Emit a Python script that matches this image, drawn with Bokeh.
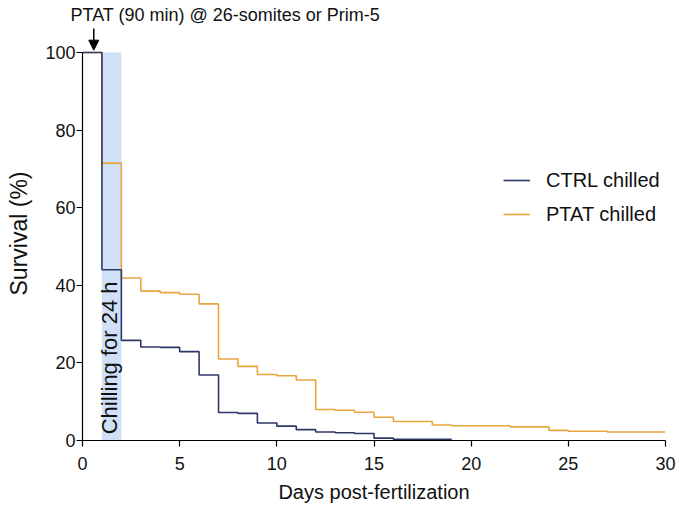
import math
from bokeh.plotting import figure
from bokeh.models import (Legend, LegendItem, Arrow, NormalHead, Title,
                          FixedTicker, Range1d)
from bokeh.embed import file_html
from bokeh.resources import INLINE
from bokeh.core.properties import value

# ---- data ----
ctrl_days = [0, 1, 2, 3, 4, 5, 6, 7, 8, 9, 10, 11, 12, 13, 14, 15, 16, 19]
ctrl_surv = [100, 44.0, 25.8, 24.1, 24.0, 22.9, 16.9, 7.2, 7.0, 4.5, 3.7, 2.8,
             2.2, 2.0, 1.8, 0.6, 0.3, 0.3]
ptat_days = [0, 1, 2, 3, 4, 5, 6, 7, 8, 9, 10, 11, 12, 13, 14, 15, 16, 18, 19,
             22, 24, 25, 27, 30]
ptat_surv = [100, 71.5, 41.9, 38.5, 38.1, 37.7, 35.2, 21.0, 19.1, 17.0, 16.7,
             15.6, 8.0, 7.8, 7.3, 6.0, 4.9, 4.0, 3.8, 3.5, 2.6, 2.4, 2.2, 2.2]
series_names = ["CTRL chilled", "PTAT chilled"]
x_ticks = [0, 5, 10, 15, 20, 25, 30]
y_ticks = [0, 20, 40, 60, 80, 100]
chill_start = [1]
chill_end = [2]
chill_text = ["Chilling for 24 h"]
ptat_time = 0.58
top_note = "PTAT (90 min) @ 26-somites or Prim-5"

FONT = "Liberation Sans"
NAVY = "#2e3768"
ORANGE = "#e9a63f"
BAND = "#cfe0f7"

p = figure(width=679, height=508, output_backend="svg", toolbar_location=None,
           x_range=Range1d(0, 30), y_range=Range1d(0, 106.7),
           min_border_left=82, min_border_right=14, min_border_top=26,
           min_border_bottom=68)
p.outline_line_color = None
p.grid.visible = False
p.background_fill_color = "white"
p.border_fill_color = "white"

# top note as a left-aligned title
p.add_layout(Title(text=top_note, align="left", offset=-12, standoff=3,
                   text_font=FONT, text_font_size="18px",
                   text_font_style="normal", text_color="#111111"), "above")

# chilling band
p.quad(left=chill_start, right=chill_end, bottom=[0], top=[100],
       fill_color=BAND, line_color=None)
p.text(x=[(chill_start[0] + chill_end[0]) / 2 - 0.12], y=[1.6], text=chill_text,
       angle=math.pi / 2, text_align="left", text_baseline="middle",
       text_font=value(FONT), text_font_size="22px", text_color="#111111")

r_ptat = p.step(ptat_days, ptat_surv, mode="after", line_color=ORANGE,
                line_width=1.6)
r_ctrl = p.step(ctrl_days, ctrl_surv, mode="after", line_color=NAVY,
                line_width=1.6)

legend = Legend(items=[LegendItem(label=series_names[0], renderers=[r_ctrl]),
                       LegendItem(label=series_names[1], renderers=[r_ptat])],
                location=(421, 214), glyph_width=27, glyph_height=24,
                label_height=24, spacing=10, label_standoff=16, padding=0,
                margin=0, border_line_alpha=0, background_fill_alpha=0,
                label_text_font=FONT, label_text_font_size="20px",
                label_text_color="#111111")
p.add_layout(legend)

# arrow marking the PTAT treatment time
p.add_layout(Arrow(end=NormalHead(size=10, fill_color="black",
                                  line_color="black"),
                   x_start=ptat_time, y_start=106.2, x_end=ptat_time,
                   y_end=100.6, line_color="black", line_width=1.5))

for ax in (p.xaxis[0], p.yaxis[0]):
    ax.axis_line_color = "black"
    ax.axis_line_width = 1.2
    ax.major_tick_line_color = "black"
    ax.major_tick_line_width = 1.2
    ax.major_tick_out = 6
    ax.major_tick_in = 0
    ax.minor_tick_line_color = None
    ax.major_label_text_font = FONT
    ax.major_label_text_font_size = "18px"
    ax.major_label_text_color = "#111111"
    ax.axis_label_text_font = FONT
    ax.axis_label_text_font_style = "normal"
    ax.axis_label_text_color = "#111111"

p.yaxis.bounds = (0, 100)
p.xaxis.ticker = FixedTicker(ticks=x_ticks)
p.yaxis.ticker = FixedTicker(ticks=y_ticks)
p.xaxis.axis_label = "Days post-fertilization"
p.yaxis.axis_label = "Survival (%)"
p.xaxis.axis_label_text_font_size = "20px"
p.yaxis.axis_label_text_font_size = "23px"
p.xaxis.major_label_standoff = 10
p.xaxis.axis_label_standoff = 8
p.yaxis.major_label_standoff = 1
p.yaxis.axis_label_standoff = 10

open("out.html", "w").write(file_html(p, INLINE))
